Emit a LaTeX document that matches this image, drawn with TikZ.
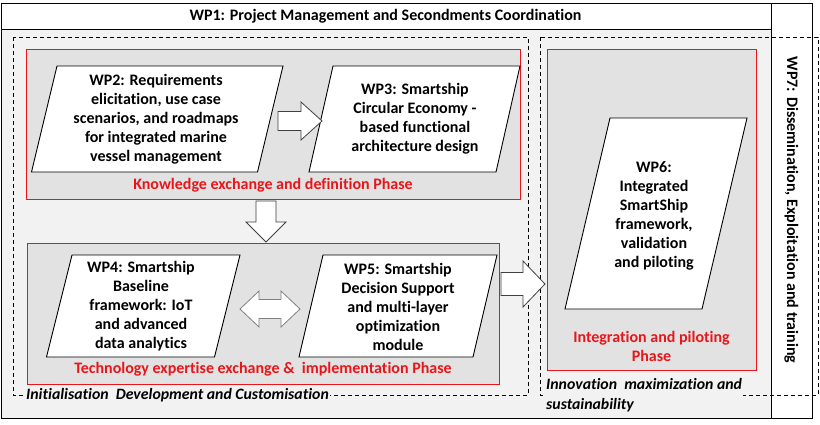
\documentclass[tikz,border=0pt]{standalone}
\usepackage{fontspec}
\setmainfont{Carlito}[Ligatures=NoCommon, BoldFont={Carlito Bold}, ItalicFont={Carlito Italic}, BoldItalicFont={Carlito Bold Italic}]
\usetikzlibrary{calc}
\definecolor{bgray}{HTML}{F2F2F2}
\definecolor{pgray}{HTML}{E2E2E2}
\definecolor{wpred}{HTML}{E8161B}
\definecolor{arrline}{HTML}{404040}
\newcommand\blockarr[6][]{%
  \coordinate (tmpbt) at ($(#3)!#6!(#2)$);
  \draw[#1] ($(#2)!#4!90:(#3)$) -- ($(tmpbt)!#4!90:(#3)$) -- ($(tmpbt)!#5!90:(#3)$) -- (#3)
    -- ($(tmpbt)!#5!-90:(#3)$) -- ($(tmpbt)!#4!-90:(#3)$) -- ($(#2)!#4!-90:(#3)$) -- cycle;}
\newcommand\dblarr[6][]{%
  \coordinate (tmpba) at ($(#2)!#6!(#3)$);
  \coordinate (tmpbb) at ($(#3)!#6!(#2)$);
  \draw[#1] (#2) -- ($(tmpba)!#5!90:(#3)$) -- ($(tmpba)!#4!90:(#3)$) -- ($(tmpbb)!#4!-90:(#2)$)
    -- ($(tmpbb)!#5!-90:(#2)$) -- (#3) -- ($(tmpbb)!#5!90:(#2)$) -- ($(tmpbb)!#4!90:(#2)$)
    -- ($(tmpba)!#4!-90:(#3)$) -- ($(tmpba)!#5!-90:(#3)$) -- cycle;}
\newcommand\pgram[5]{% center x, center y, half width, half height, skew half
  \draw[wpbox] ({#1-#3+#5},{#2-#4}) -- ({#1+#3+#5},{#2-#4}) -- ({#1+#3-#5},{#2+#4}) -- ({#1-#3-#5},{#2+#4}) -- cycle;}
\begin{document}
\begin{tikzpicture}[x=1pt,y=-1pt,
  wpbox/.style={draw=black, fill=white, line width=0.9pt, line join=miter},
  wptext/.style={align=center, font=\fontsize{16}{19}\selectfont\bfseries, inner sep=0pt},
  phasebox/.style={draw=wpred, fill=pgray, line width=0.9pt},
  phasetext/.style={wptext, text=wpred},
  dashbox/.style={draw=black, dash pattern=on 4pt off 3pt, line width=0.8pt},
  framebox/.style={draw=black, line width=0.9pt},
  itlabel/.style={anchor=west, align=left, fill=bgray, inner xsep=1pt, inner ysep=1pt,
    font=\fontsize{15.8}{20}\selectfont\bfseries\itshape},
  barrow/.style={draw=arrline, fill=white, line width=0.8pt, line join=miter},
  darrow/.style={draw=gray, fill=white, line width=0.8pt, line join=miter}]
\useasboundingbox (0,0) rectangle (820,424);
\fill[white] (0,0) rectangle (820,424);
% main background
\fill[bgray] (1,29) rectangle (771,418);
% header and WP7 column
\draw[framebox, fill=white] (1,3) rectangle (771,29);
\draw[framebox, fill=white] (771,3) rectangle (812,418);
\draw[framebox] (1,3) rectangle (812,418);
\node[wptext] (wp1) at (385.5,16) {WP1: Project Management and Secondments Coordination};
\node[wptext, rotate=-90] (wp7) at (791.5,210) {WP7: Dissemination, Exploitation and training};
% dashed phase groups
\draw[dashbox] (13,37) rectangle (528,395);
\draw[dashbox] (540,37) rectangle (818,395);
% red phase boxes
\draw[phasebox] (26,49) rectangle (520,199);
\draw[phasebox] (27,243) rectangle (499,384);
\draw[phasebox] (547,49) rectangle (756,370);
% work packages
\pgram{157.25}{119}{113}{53}{12.75}
\node[wptext] (wp2) at (156,119) {WP2: Requirements\\elicitation, use case\\scenarios, and roadmaps\\for integrated marine\\vessel management};
\pgram{414.5}{119}{93.5}{53}{12}
\node[wptext] (wp3) at (415,119) {WP3: Smartship\\Circular Economy -\\based functional\\architecture design};
\pgram{143.25}{306}{84}{51}{12.75}
\node[wptext] (wp4) at (141,306.5) {WP4: Smartship\\Baseline\\framework: IoT\\and advanced\\data analytics};
\pgram{398}{306}{87}{51}{12}
\node[wptext] (wp5) at (398,306.5) {WP5: Smartship\\Decision Support\\and multi-layer\\optimization\\module};
\pgram{656}{213.5}{68.5}{95.5}{22.5}
\node[wptext] (wp6) at (654,215.5) {WP6:\\Integrated\\SmartShip\\framework,\\validation\\and piloting};
% phase titles
\node[phasetext] (ph1) at (273,185) {Knowledge exchange and definition Phase};
\node[phasetext] (ph2) at (263,369) {Technology expertise exchange \&\ \ implementation Phase};
\node[phasetext] (ph3) at (651.5,346.5) {Integration and piloting\\Phase};
% group labels
\node[itlabel] (lab1) at (25,395) {Initialisation\ \ Development and Customisation};
\node[itlabel] (lab2) at (545,395) {Innovation\ \ maximization and\\sustainability};
% block arrows
\coordinate (a23s) at (278,121); \coordinate (a23t) at (322,121);
\blockarr[barrow]{a23s}{a23t}{9.5pt}{19pt}{21pt}
\coordinate (a24s) at (266,201); \coordinate (a24t) at (266,242);
\blockarr[barrow]{a24s}{a24t}{10pt}{20pt}{20pt}
\coordinate (a45a) at (240,309); \coordinate (a45b) at (300,309);
\dblarr[darrow]{a45a}{a45b}{9.5pt}{18pt}{19pt}
\coordinate (a56s) at (501,284); \coordinate (a56t) at (545,284);
\blockarr[barrow]{a56s}{a56t}{11.5pt}{23pt}{22pt}
\end{tikzpicture}
\end{document}
